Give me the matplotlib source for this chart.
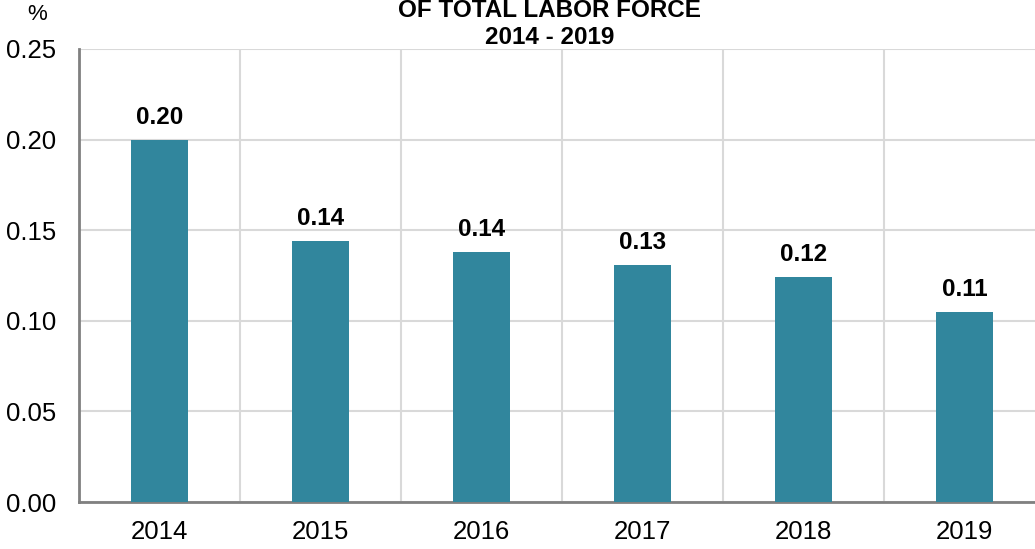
import matplotlib
matplotlib.use("Agg")
import matplotlib.pyplot as plt
import numpy as np

plt.rcParams["font.family"] = ["Liberation Sans", "DejaVu Sans"]

# ---------------------------------------------------------------- данные
years = ["2014", "2015", "2016", "2017", "2018", "2019"]
share = [0.200, 0.144, 0.138, 0.131, 0.124, 0.105]
labels = ["0.20", "0.14", "0.14", "0.13", "0.12", "0.11"]
yticks = [0.00, 0.05, 0.10, 0.15, 0.20, 0.25]

W, H = 1035, 549
fig = plt.figure(figsize=(W / 100, H / 100), dpi=100)
# ось выходит за правый край картинки, как в оригинале
ax = fig.add_axes([79 / W, 1 - 502 / H, 966 / W, 453 / H])

x = np.arange(len(years))
ax.bar(x, share, width=0.35, color="#31869D", zorder=3)
for xi, v, t in zip(x, share, labels):
    ax.text(xi, v + 0.006, t, ha="center", va="bottom",
            fontsize=17.5, fontweight="bold", zorder=4)

ax.set_xlim(-0.5, len(years) - 0.5)
ax.set_ylim(0, 0.25)
ax.set_yticks(yticks, [f"{v:.2f}" for v in yticks])
ax.set_xticks(x, years)
ax.set_xticks(x[:-1] + 0.5, minor=True)
ax.tick_params(axis="both", which="both", length=0, labelsize=18.5)
ax.tick_params(axis="y", pad=16.5)
ax.tick_params(axis="x", pad=13)
ax.grid(axis="y", color="#D9D9D9", lw=1.5, zorder=0)
ax.grid(axis="x", which="minor", color="#D9D9D9", lw=1.5, zorder=0)
for s in ("top", "right"):
    ax.spines[s].set_visible(False)
for s in ("left", "bottom"):
    ax.spines[s].set_color("#808080")
    ax.spines[s].set_linewidth(2)

fig.text(37 / W, 1 - 15 / H, "%", ha="center", va="center", fontsize=16)
fig.text(550 / W, 1 - 24 / H, "OF TOTAL LABOR FORCE\n2014 - 2019",
         ha="center", va="center", fontsize=17.5, fontweight="bold",
         linespacing=1.2)

fig.savefig("out.png", dpi=100)
